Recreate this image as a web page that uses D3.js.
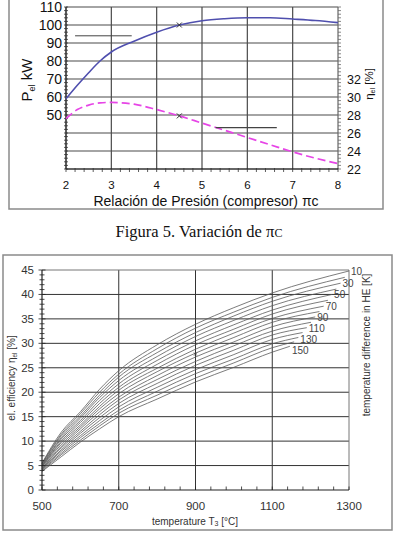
<!DOCTYPE html>
<html>
<head>
<meta charset="utf-8">
<script src="https://cdn.jsdelivr.net/npm/d3@7"></script>
<style>
  body { margin: 0; background: #fff; }
  svg { display: block; font-family: "Liberation Sans", Arial, sans-serif; }
</style>
</head>
<body>
<script>
// ---- top chart data: power and efficiency vs pressure ratio
var piC = [2, 2.25, 2.5, 2.75, 3, 3.5, 4, 4.5, 5, 5.5, 6, 6.5, 7, 7.5, 8];
var pel = [59, 66.5, 73.5, 80, 85, 91, 96, 100, 102.4, 103.5, 104, 104, 103.3, 102.5, 101.3];
var etaEl = [27.6, 28.6, 29.1, 29.35, 29.4, 29.2, 28.6, 27.9, 27.1, 26.3, 25.5, 24.7, 23.9, 23.2, 22.6];
var pelTicks = [50, 60, 70, 80, 90, 100, 110];
var etaTicks = [22, 24, 26, 28, 30, 32];
var piTicks = [2, 3, 4, 5, 6, 7, 8];
var markPi = 4.5;
var refPel = [2.2, 3.45, 94];      // from, to, value
var refEta = [5.3, 6.65, 26.6];

// ---- bottom chart data: efficiency vs T3 for temperature difference in HE
var temps = [500, 550, 600, 650, 700, 800, 900, 1000, 1100];
var deltaT = [10, 20, 30, 40, 50, 60, 70, 80, 90, 100, 110, 120, 130, 140, 150];
var endTemp = [1300, 1289, 1278, 1267, 1256, 1245, 1234, 1223, 1212, 1201, 1190, 1179, 1168, 1157, 1146];
var endEff = [44.8, 43.5, 42.3, 41.1, 40.0, 38.8, 37.6, 36.5, 35.4, 34.3, 33.2, 32.2, 31.2, 30.3, 29.4];
var eff10  = [5.5, 11.8, 16.0, 20.6, 24.4, 29.7, 33.9, 37.3, 40.3];
var eff20  = [5.4, 11.4, 15.6, 20.0, 23.7, 28.9, 33.1, 36.4, 39.4];
var eff30  = [5.3, 11.1, 15.1, 19.4, 23.1, 28.1, 32.2, 35.6, 38.6];
var eff40  = [5.1, 10.7, 14.7, 18.9, 22.4, 27.3, 31.4, 34.7, 37.7];
var eff50  = [5.0, 10.4, 14.2, 18.3, 21.7, 26.5, 30.5, 33.8, 36.8];
var eff60  = [4.9, 10.0, 13.8, 17.7, 21.0, 25.7, 29.7, 32.9, 36.0];
var eff70  = [4.8, 9.7, 13.3, 17.1, 20.4, 24.9, 28.8, 32.1, 35.1];
var eff80  = [4.7, 9.3, 12.9, 16.6, 19.7, 24.2, 28.0, 31.2, 34.3];
var eff90  = [4.5, 8.9, 12.5, 16.0, 19.0, 23.4, 27.2, 30.3, 33.4];
var eff100 = [4.4, 8.6, 12.0, 15.4, 18.4, 22.6, 26.3, 29.5, 32.5];
var eff110 = [4.3, 8.2, 11.6, 14.8, 17.7, 21.8, 25.5, 28.6, 31.7];
var eff120 = [4.2, 7.9, 11.1, 14.2, 17.0, 21.0, 24.6, 27.7, 30.8];
var eff130 = [4.1, 7.5, 10.7, 13.6, 16.3, 20.2, 23.8, 26.8, 29.9];
var eff140 = [3.9, 7.2, 10.2, 13.1, 15.7, 19.4, 22.9, 26.0, 29.1];
var eff150 = [3.8, 6.8, 9.8, 12.5, 15.0, 18.6, 22.1, 25.1, 28.2];
var effCurves = [eff10, eff20, eff30, eff40, eff50, eff60, eff70, eff80, eff90,
                 eff100, eff110, eff120, eff130, eff140, eff150];
var tTicks = [500, 700, 900, 1100, 1300];
var effTicks = [0, 5, 10, 15, 20, 25, 30, 35, 40, 45];
var markT = [900, 27.8];

var svg = d3.select("body").append("svg").attr("width", 396).attr("height", 533);

// =================== TOP CHART ===================
svg.append("rect").attr("x", 9).attr("y", -5).attr("width", 374).attr("height", 214)
   .attr("fill", "none").attr("stroke", "#8a8a8a").attr("stroke-width", 1.5);

var x1 = d3.scaleLinear().domain([2, 8]).range([66, 338]);
var yP = d3.scaleLinear().domain([20, 110]).range([169, 7]);
var yE = d3.scaleLinear().domain([22, 40]).range([169, 7]);

var gTop = svg.append("g");

// grid
gTop.selectAll(".vg").data([3, 4, 5, 6, 7]).enter().append("line")
   .attr("x1", d => x1(d)).attr("x2", d => x1(d)).attr("y1", yP(110)).attr("y2", yP(20))
   .attr("stroke", "#4a4a4a").attr("stroke-width", 1.2);
gTop.selectAll(".hg").data(d3.range(30, 111, 10)).enter().append("line")
   .attr("x1", x1(2)).attr("x2", x1(8)).attr("y1", d => yP(d)).attr("y2", d => yP(d))
   .attr("stroke", "#4a4a4a").attr("stroke-width", 1.2);

// minor ticks
gTop.selectAll(".lt").data(d3.range(20, 111, 2)).enter().append("line")
   .attr("x1", x1(2) - 2).attr("x2", x1(2) + 2).attr("y1", d => yP(d)).attr("y2", d => yP(d))
   .attr("stroke", "#333").attr("stroke-width", 0.8);
gTop.selectAll(".rt").data(d3.range(22, 40.01, 0.4)).enter().append("line")
   .attr("x1", x1(8)).attr("x2", x1(8) + 3).attr("y1", d => yE(d)).attr("y2", d => yE(d))
   .attr("stroke", "#555").attr("stroke-width", 0.7);
gTop.selectAll(".bt").data(d3.range(2, 8.01, 0.2)).enter().append("line")
   .attr("x1", d => x1(d)).attr("x2", d => x1(d)).attr("y1", yP(20) - 1).attr("y2", yP(20) + 3)
   .attr("stroke", "#333").attr("stroke-width", 0.8);

// axes lines
gTop.append("line").attr("x1", x1(2)).attr("x2", x1(2)).attr("y1", yP(110)).attr("y2", yP(20))
   .attr("stroke", "#333").attr("stroke-width", 1.6);
gTop.append("line").attr("x1", x1(8)).attr("x2", x1(8)).attr("y1", yP(110)).attr("y2", yP(20))
   .attr("stroke", "#666").attr("stroke-width", 1.2);
gTop.append("line").attr("x1", x1(2)).attr("x2", x1(8)).attr("y1", yP(20)).attr("y2", yP(20))
   .attr("stroke", "#333").attr("stroke-width", 1.6);

// tick labels
gTop.selectAll(".pl").data(pelTicks).enter().append("text")
   .attr("x", x1(2) - 4).attr("y", d => yP(d) + 5).attr("text-anchor", "end")
   .attr("font-size", 14).attr("fill", "#111").text(d => d);
gTop.selectAll(".el").data(etaTicks).enter().append("text")
   .attr("x", x1(8) + 9).attr("y", d => yE(d) + 4.5).attr("text-anchor", "start")
   .attr("font-size", 12.5).attr("fill", "#111").text(d => d);
gTop.selectAll(".xl").data(piTicks).enter().append("text")
   .attr("x", d => x1(d)).attr("y", 189).attr("text-anchor", "middle")
   .attr("font-size", 11.5).attr("fill", "#111").text(d => d);

// curves
var lineP = d3.line().x((d, i) => x1(piC[i])).y(d => yP(d)).curve(d3.curveMonotoneX);
var lineE = d3.line().x((d, i) => x1(piC[i])).y(d => yE(d)).curve(d3.curveMonotoneX);
gTop.append("path").attr("d", lineP(pel)).attr("fill", "none")
   .attr("stroke", "#4f4fae").attr("stroke-width", 1.6);
gTop.append("path").attr("d", lineE(etaEl)).attr("fill", "none")
   .attr("stroke", "#e645e6").attr("stroke-width", 1.7).attr("stroke-dasharray", "8,4");

// reference lines
gTop.append("line").attr("x1", x1(refPel[0])).attr("x2", x1(refPel[1]))
   .attr("y1", yP(refPel[2])).attr("y2", yP(refPel[2])).attr("stroke", "#444").attr("stroke-width", 1);
gTop.append("line").attr("x1", x1(refEta[0])).attr("x2", x1(refEta[1]))
   .attr("y1", yE(refEta[2])).attr("y2", yE(refEta[2])).attr("stroke", "#444").attr("stroke-width", 1.2);

// x markers at the design point
var iMark = piC.indexOf(markPi);
[[x1(markPi), yP(pel[iMark])], [x1(markPi), yE(etaEl[iMark])]].forEach(function(p) {
  gTop.append("path").attr("d", "M" + (p[0] - 2.5) + "," + (p[1] - 2.5) + "l5,5M" + (p[0] - 2.5) + "," + (p[1] + 2.5) + "l5,-5")
     .attr("stroke", "#333").attr("stroke-width", 1);
});

// axis titles
var tP = gTop.append("text").attr("transform", "translate(32,80)rotate(-90)")
   .attr("text-anchor", "middle").attr("font-size", 15).attr("fill", "#111");
tP.append("tspan").text("P");
tP.append("tspan").attr("font-size", 9).attr("dy", 3).text("el");
tP.append("tspan").attr("dy", -3).text("  kW");
var tE = gTop.append("text").attr("transform", "translate(373,84)rotate(-90)")
   .attr("text-anchor", "middle").attr("font-size", 11.5).attr("fill", "#111");
tE.append("tspan").text("η");
tE.append("tspan").attr("font-size", 7).attr("dy", 2).text("el");
tE.append("tspan").attr("dy", -2).text(" [%]");

gTop.append("text").attr("x", 206).attr("y", 206).attr("text-anchor", "middle")
   .attr("font-size", 14).attr("fill", "#111").text("Relación de Presión (compresor)  πc");

// caption
var cap = svg.append("text").attr("x", 199).attr("y", 237).attr("text-anchor", "middle")
   .attr("font-family", "'Liberation Serif', 'Times New Roman', serif").attr("font-size", 16.5).attr("fill", "#111");
cap.append("tspan").text("Figura 5. Variación de π");
cap.append("tspan").attr("font-size", 12).text("C");

// =================== BOTTOM CHART ===================
svg.append("rect").attr("x", 3).attr("y", 255).attr("width", 389).attr("height", 275)
   .attr("fill", "none").attr("stroke", "#8a8a8a").attr("stroke-width", 1.5);

var x2 = d3.scaleLinear().domain([500, 1300]).range([42, 349]);
var y2 = d3.scaleLinear().domain([0, 45]).range([490, 270]);
var bot = svg.append("g");

// grid
bot.selectAll(".hg").data([5, 10, 15, 20, 25, 30, 35, 40]).enter().append("line")
   .attr("x1", x2(500)).attr("x2", x2(1300)).attr("y1", d => y2(d)).attr("y2", d => y2(d))
   .attr("stroke", "#333").attr("stroke-width", 1);
bot.selectAll(".vg").data([700, 900, 1100]).enter().append("line")
   .attr("x1", d => x2(d)).attr("x2", d => x2(d)).attr("y1", y2(45)).attr("y2", y2(0))
   .attr("stroke", "#333").attr("stroke-width", 1);
bot.append("line").attr("x1", x2(500)).attr("x2", x2(1300)).attr("y1", y2(45)).attr("y2", y2(45))
   .attr("stroke", "#777").attr("stroke-width", 1);
bot.append("line").attr("x1", x2(1300)).attr("x2", x2(1300)).attr("y1", y2(45)).attr("y2", y2(0))
   .attr("stroke", "#777").attr("stroke-width", 1);

// curves
var lineB = d3.line().x(d => x2(d[0])).y(d => y2(d[1])).curve(d3.curveMonotoneX);
effCurves.forEach(function(vals, k) {
  var pts = temps.map((t, i) => [t, vals[i]]);
  pts.push([endTemp[k], endEff[k]]);
  bot.append("path").attr("d", lineB(pts)).attr("fill", "none")
     .attr("stroke", "#5a5a5a").attr("stroke-width", 0.8);
});

// labels on every second curve, pushed apart so they don't collide
var prevY = -Infinity;
deltaT.forEach(function(dt, k) {
  if (k % 2 !== 0) return;
  var ly = Math.max(y2(endEff[k]) + 4, prevY + 11);
  prevY = ly;
  bot.append("text").attr("x", x2(endTemp[k]) + 2).attr("y", ly)
     .attr("font-size", 10).attr("fill", "#444").text(dt);
});
bot.append("path")
   .attr("d", "M" + (x2(markT[0]) - 1.5) + "," + (y2(markT[1]) - 1.5) + "l3,3M" + (x2(markT[0]) - 1.5) + "," + (y2(markT[1]) + 1.5) + "l3,-3")
   .attr("stroke", "#333").attr("stroke-width", 0.8);

// axes
bot.append("line").attr("x1", x2(500)).attr("x2", x2(500)).attr("y1", y2(45)).attr("y2", y2(0))
   .attr("stroke", "#222").attr("stroke-width", 1.2);
bot.append("line").attr("x1", x2(500)).attr("x2", x2(1300)).attr("y1", y2(0)).attr("y2", y2(0))
   .attr("stroke", "#222").attr("stroke-width", 1.2);
bot.selectAll(".yt").data(d3.range(0, 45.01, 1)).enter().append("line")
   .attr("x1", d => x2(500) - (d % 5 ? 2.5 : 3.5)).attr("x2", d => x2(500) + (d % 5 ? 2.5 : 3.5))
   .attr("y1", d => y2(d)).attr("y2", d => y2(d)).attr("stroke", "#222").attr("stroke-width", 0.8);
bot.selectAll(".xt").data(d3.range(500, 1300.1, 40)).enter().append("line")
   .attr("x1", d => x2(d)).attr("x2", d => x2(d)).attr("y1", y2(0)).attr("y2", y2(0) - 3.5)
   .attr("stroke", "#222").attr("stroke-width", 0.8);

bot.selectAll(".yl").data(effTicks).enter().append("text")
   .attr("x", x2(500) - 8).attr("y", d => y2(d) + 4).attr("text-anchor", "end")
   .attr("font-size", 11.5).attr("fill", "#333").text(d => d);
bot.selectAll(".xl").data(tTicks).enter().append("text")
   .attr("x", d => x2(d)).attr("y", 510).attr("text-anchor", "middle")
   .attr("font-size", 11.5).attr("fill", "#333").text(d => d);

var tx = bot.append("text").attr("x", 195).attr("y", 525).attr("text-anchor", "middle")
   .attr("font-size", 10).attr("fill", "#333");
tx.append("tspan").text("temperature T");
tx.append("tspan").attr("font-size", 7).attr("dy", 1).text("3");
tx.append("tspan").attr("dy", -1).text(" [°C]");

var ty = bot.append("text").attr("transform", "translate(15,378)rotate(-90)")
   .attr("text-anchor", "middle").attr("font-size", 10).attr("fill", "#333");
ty.append("tspan").text("el. efficiency η");
ty.append("tspan").attr("font-size", 6.5).attr("dy", 1.5).text("el");
ty.append("tspan").attr("dy", -1.5).text(" [%]");

bot.append("text").attr("transform", "translate(370,345)rotate(-90)")
   .attr("text-anchor", "middle").attr("font-size", 10).attr("fill", "#333")
   .text("temperature difference in HE [K]");
</script>
</body>
</html>
